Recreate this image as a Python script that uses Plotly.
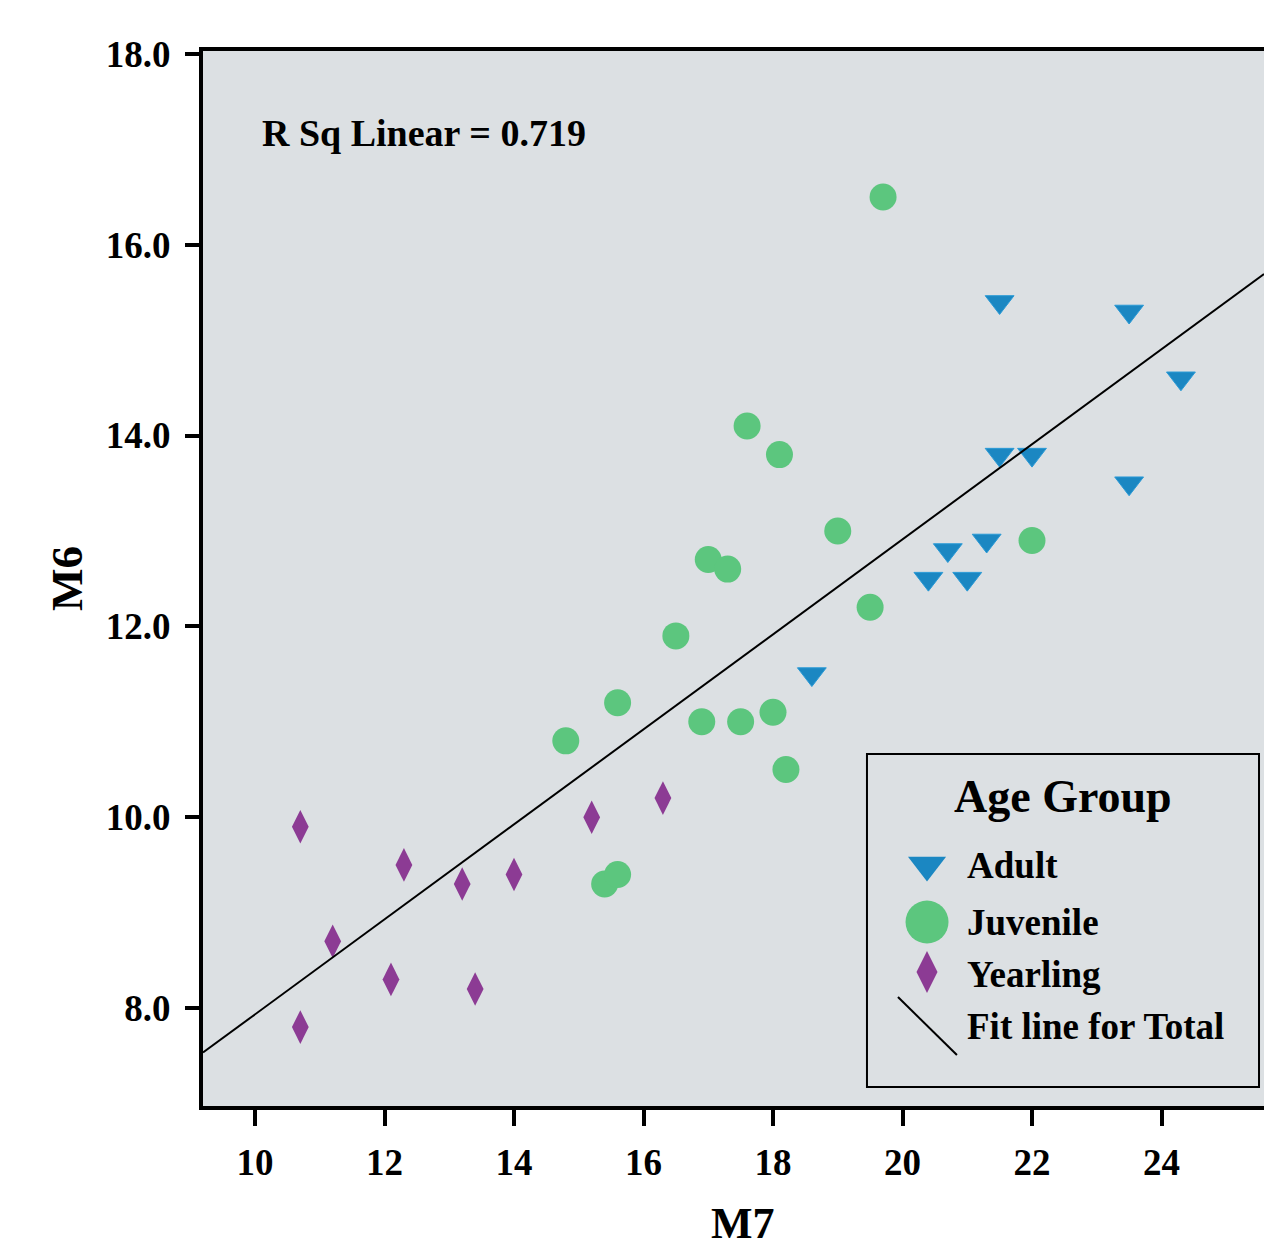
import numpy as np
import plotly.graph_objects as go

# ---------------- data ----------------
adult_m7 = [21.5, 23.5, 24.3, 21.5, 22.0, 23.5, 21.3, 20.7, 20.4, 21.0, 18.6]
adult_m6 = [15.4, 15.3, 14.6, 13.8, 13.8, 13.5, 12.9, 12.8, 12.5, 12.5, 11.5]

juvenile_m7 = [19.7, 17.6, 18.1, 19.0, 17.0, 17.3, 16.5, 19.5, 15.6, 14.8,
               16.9, 17.5, 18.0, 18.2, 22.0, 15.4, 15.6]
juvenile_m6 = [16.5, 14.1, 13.8, 13.0, 12.7, 12.6, 11.9, 12.2, 11.2, 10.8,
               11.0, 11.0, 11.1, 10.5, 12.9, 9.3, 9.4]

yearling_m7 = [10.7, 12.3, 11.2, 12.1, 10.7, 13.2, 14.0, 13.4, 15.2, 16.3]
yearling_m6 = [9.9, 9.5, 8.7, 8.3, 7.8, 9.3, 9.4, 8.2, 10.0, 10.2]

group_names = ["Adult", "Juvenile", "Yearling"]
fit_label = "Fit line for Total"
r_sq_text = "R Sq Linear = 0.719"
x_title = "M7"
y_title = "M6"
x_ticks = [10, 12, 14, 16, 18, 20, 22, 24]
y_ticks = [8.0, 10.0, 12.0, 14.0, 16.0, 18.0]

# ---------------- styling ----------------
FONT = "Liberation Serif"
BG = "#dce0e3"
C_ADULT = "#1b87c2"
C_JUV = "#5cc67e"
C_YEAR = "#8c3b94"
X_RANGE = [9.197, 25.583]
Y_RANGE = [6.973, 18.03]

fig = go.Figure()

fig.add_trace(go.Scatter(
    x=adult_m7, y=adult_m6, mode="markers", name=group_names[0],
    marker=dict(symbol="triangle-down", size=25, color=C_ADULT,
                line=dict(width=1, color="#2a9ad6")),
    showlegend=False))
fig.add_trace(go.Scatter(
    x=juvenile_m7, y=juvenile_m6, mode="markers", name=group_names[1],
    marker=dict(symbol="circle", size=27, color=C_JUV, line=dict(width=0)),
    showlegend=False))
fig.add_trace(go.Scatter(
    x=yearling_m7, y=yearling_m6, mode="markers", name=group_names[2],
    marker=dict(symbol="diamond-tall", size=24, color=C_YEAR, line=dict(width=0)),
    showlegend=False))

# fit line for total (OLS over all points)
all_x = np.array(adult_m7 + juvenile_m7 + yearling_m7)
all_y = np.array(adult_m6 + juvenile_m6 + yearling_m6)
slope, intercept = np.polyfit(all_x, all_y, 1)
fx = np.array(X_RANGE)
fig.add_trace(go.Scatter(
    x=fx, y=intercept + slope * fx, mode="lines", name=fit_label,
    line=dict(color="black", width=2), showlegend=False, hoverinfo="skip"))

# ---------------- manual legend (keys on an overlay axis in paper units) ----
LEG_X = 0.6824
LEG_Y = [0.2284, 0.1744, 0.1270]
leg_colors = [C_ADULT, C_JUV, C_YEAR]
leg_symbols = ["triangle-down", "circle", "diamond-tall"]
leg_sizes = [33, 43, 30]
for i in range(3):
    fig.add_trace(go.Scatter(
        x=[LEG_X], y=[LEG_Y[i]], xaxis="x2", yaxis="y2", mode="markers",
        marker=dict(symbol=leg_symbols[i], size=leg_sizes[i], color=leg_colors[i],
                    line=dict(width=0)),
        showlegend=False, hoverinfo="skip"))

annotations = [
    dict(text=r_sq_text, xref="paper", yref="paper", x=0.0537, y=0.9223,
         xanchor="left", yanchor="middle", showarrow=False,
         font=dict(family=FONT, size=38, color="black", weight="bold")),
    dict(text="Age Group", xref="paper", yref="paper", x=0.8106, y=0.2929,
         xanchor="center", yanchor="middle", showarrow=False,
         font=dict(family=FONT, size=46, color="black", weight="bold")),
    dict(text=x_title, xref="paper", yref="paper", x=0.509, y=-0.1365,
         xanchor="center", yanchor="bottom", showarrow=False,
         font=dict(family=FONT, size=44, color="black", weight="bold")),
]
leg_text_y = [0.2284, 0.1744, 0.1242, 0.0749]
for name, yy in zip(group_names + [fit_label], leg_text_y):
    annotations.append(dict(
        text=name, xref="paper", yref="paper", x=0.7182, y=yy,
        xanchor="left", yanchor="middle", showarrow=False,
        font=dict(family=FONT, size=37, color="black", weight="bold")))

shapes = [
    dict(type="rect", xref="paper", yref="paper", x0=0.6258, x1=0.9953,
         y0=0.0180, y1=0.3336, line=dict(color="black", width=2),
         fillcolor="rgba(0,0,0,0)", layer="above"),
    dict(type="line", xref="paper", yref="paper", x0=0.6550, y0=0.1033,
         x1=0.7106, y1=0.0483, line=dict(color="black", width=2)),
]

fig.update_layout(
    width=1264, height=1252,
    paper_bgcolor="white", plot_bgcolor=BG,
    margin=dict(l=203, r=0, t=51, b=146),
    font=dict(family=FONT, color="black"),
    annotations=annotations, shapes=shapes,
    xaxis=dict(range=X_RANGE, tickvals=x_ticks, ticks="outside", ticklen=16,
               tickwidth=4, tickcolor="black", showline=True, linewidth=4,
               linecolor="black", mirror=True, showgrid=False, zeroline=False,
               ticklabelstandoff=5,
               tickfont=dict(family=FONT, size=37, color="black", weight="bold")),
    yaxis=dict(range=Y_RANGE, tickvals=y_ticks, tickformat=".1f", ticks="outside",
               ticklen=14, tickwidth=4, tickcolor="black", showline=True,
               linewidth=4, linecolor="black", mirror=False, showgrid=False,
               zeroline=False, ticklabelstandoff=7,
               tickfont=dict(family=FONT, size=37, color="black", weight="bold"),
               title=dict(text=y_title, standoff=10,
                          font=dict(family=FONT, size=45, color="black", weight="bold"))),
    xaxis2=dict(overlaying="x", range=[0, 1], visible=False, fixedrange=True),
    yaxis2=dict(overlaying="y", range=[0, 1], visible=False, fixedrange=True),
)

fig.write_html("out.html", config={"displayModeBar": False},
               post_script="document.body.style.margin='0px';"
                           "document.body.style.overflow='hidden';")
